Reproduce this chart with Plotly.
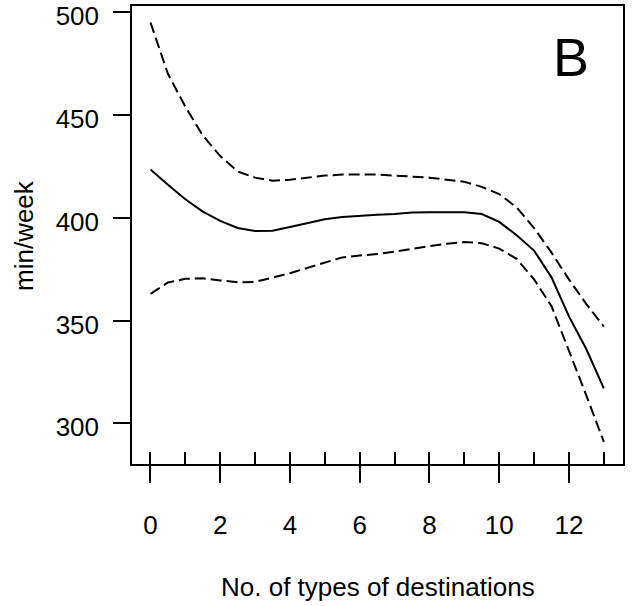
import plotly.graph_objects as go

# x positions (number of types of destinations)
x_vals = [0, 0.5, 1, 1.5, 2, 2.5, 3, 3.5, 4, 4.5, 5, 5.5, 6, 6.5, 7, 7.5, 8, 8.5,
          9, 9.5, 10, 10.5, 11, 11.5, 12, 12.5, 13]
# fitted curve (min/week)
fit = [423.5, 416, 409, 403, 398.5, 395, 393.5, 393.7, 395.5, 397.5, 399.3, 400.4,
       401, 401.4, 401.8, 402.5, 402.7, 402.7, 402.7, 401.8, 398, 391.5, 384, 371,
       352, 336, 317]
# upper confidence band
upper = [495, 470, 454, 440, 430, 422.5, 419.5, 418, 418.5, 419.5, 420.5, 421,
         421, 421, 420.5, 420, 419.5, 418.5, 417.5, 415, 411.5, 405, 395, 383,
         370, 358, 347]
# lower confidence band
lower = [363, 368.5, 370.3, 370.5, 369.5, 368.6, 368.8, 370.9, 373, 375.6, 378.2,
         380.7, 381.6, 382.3, 383.5, 385, 386.2, 387.3, 388.2, 387.6, 385, 380, 370,
         357, 335.5, 313.5, 291]
# rug marks (observed integer values)
rug_x = list(range(14))
x_tick_vals = [0, 2, 4, 6, 8, 10, 12]
y_tick_vals = [300, 350, 400, 450, 500]

FONT = "Arial, Liberation Sans, sans-serif"
FS = 26

fig = go.Figure()
fig.add_trace(go.Scatter(x=x_vals, y=upper, mode="lines",
                         line=dict(color="black", width=2, dash="11px,5px")))
fig.add_trace(go.Scatter(x=x_vals, y=fit, mode="lines",
                         line=dict(color="black", width=2)))
fig.add_trace(go.Scatter(x=x_vals, y=lower, mode="lines",
                         line=dict(color="black", width=2, dash="11px,5px")))
# invisible trace on second x axis to carry rug ticks
fig.add_trace(go.Scatter(x=rug_x, y=[None] * len(rug_x), xaxis="x2", mode="lines",
                         showlegend=False, hoverinfo="skip"))

xr = [-0.53, 13.55]
fig.update_layout(
    width=634, height=606,
    margin=dict(l=132, r=11, t=6, b=142),
    paper_bgcolor="white", plot_bgcolor="white",
    showlegend=False,
    font=dict(family=FONT, size=FS, color="black"),
    xaxis=dict(range=xr, tickvals=x_tick_vals, ticks="outside", ticklen=17,
               tickwidth=1.5, tickcolor="black", showgrid=False, zeroline=False,
               showline=True, linecolor="black", linewidth=1.5, mirror=True,
               ticklabelstandoff=20, tickfont=dict(size=FS), automargin=False,
               ticklabeloverflow="allow"),
    xaxis2=dict(range=xr, overlaying="x", side="bottom", tickvals=rug_x,
                ticks="inside", ticklen=12, tickwidth=1.5, tickcolor="black",
                showticklabels=False, showgrid=False, zeroline=False,
                showline=False, automargin=False),
    yaxis=dict(range=[280.2, 503.0], tickvals=y_tick_vals, ticks="outside",
               ticklen=17, tickwidth=1.5, tickcolor="black", showgrid=False,
               zeroline=False, showline=True, linecolor="black", linewidth=1.5,
               mirror=True, ticklabelstandoff=9, ticklabelshift=4,
               tickfont=dict(size=FS), automargin=False,
               ticklabeloverflow="allow"),
    annotations=[
        dict(text="No. of types of destinations", xref="paper", yref="paper",
             x=0.5, y=-0.268, xanchor="center", yanchor="middle",
             showarrow=False, font=dict(size=FS)),
        dict(text="min/week", xref="paper", yref="paper", x=-0.22, y=0.5,
             textangle=-90, xanchor="center", yanchor="middle", showarrow=False,
             font=dict(size=FS)),
        dict(text="B", xref="paper", yref="paper", x=0.894, y=0.888,
             xanchor="center", yanchor="middle", showarrow=False,
             font=dict(size=54)),
    ],
)

fig.write_html("out.html", config={"displayModeBar": False},
               post_script="document.body.style.margin='0';")
